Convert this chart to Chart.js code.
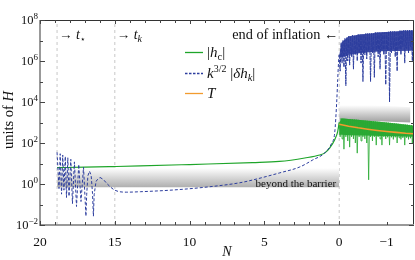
<!DOCTYPE html>
<html>
<head>
<meta charset="utf-8">
<script src="https://cdn.jsdelivr.net/npm/chart.js@4.4.1/dist/chart.umd.min.js"></script>
<style>
  html, body { margin: 0; padding: 0; background: #fff; }
  #wrap { width: 415px; height: 260px; }
</style>
</head>
<body>
<div id="wrap"><canvas id="chart" width="415" height="260"></canvas></div>
<script>
// ---- Data ----

const xTicks = [20, 15, 10, 5, 0, -1];
const yTickExps = [8, 6, 4, 2, 0, -2];
const markerN = [18.86, 15, 0];

// k^{3/2}|dh_k| : early oscillations
const nBlueOsc = [18.86, 18.73, 18.65, 18.56, 18.48, 18.40, 18.31, 18.23, 18.14, 18.06,
  17.94, 17.83, 17.70, 17.56, 17.41, 17.26, 17.09, 16.93, 16.88, 16.80, 16.69, 16.58,
  16.49, 16.43, 16.38, 16.25, 15.99];
const blueOsc = [35, 0.6, 30, 0.32, 26, 0.5, 22, 0.22, 19, 0.25,
  16, 0.11, 12, 0.08, 9, 0.14, 6.6, 0.027, 0.3, 2.5, 4.2, 2.6,
  0.35, 0.027, 0.3, 1.4, 2.1];

// k^{3/2}|dh_k| : smooth part up to the end of inflation
const nBlueSmooth = [15.99, 15.75, 15.5, 15.0, 14.2, 13.3, 11.1, 8.84, 6.64, 5.77, 3.97,
  2.63, 1.76, 0.96, 0.5, 0.3, 0.16, 0.1, 0.03, 0];
const blueSmooth = [2.1, 1.6, 1.0, 0.5, 0.4, 0.42, 0.51, 0.71, 1.15, 1.58, 3.5,
  6.8, 15, 33, 100, 316, 1.26e4, 1.26e5, 1.26e6, 2e6];

// |h_c| before the end of inflation
const nGreen = [18.86, 17, 15, 13.3, 10, 5.8, 4, 2.3, 1.3, 0.96, 0.63, 0.3, 0.1, 0];
const green = [6.3, 6.6, 7.1, 7.6, 8.9, 11, 12.6, 18.6, 26, 33, 58, 145, 363, 1000];

// after the end of inflation (shared N grid)
const nLate = [0, -0.02, -0.04, -0.06, -0.08, -0.1, -0.12, -0.14, -0.16, -0.18,
  -0.2, -0.22, -0.24, -0.26, -0.28, -0.3, -0.32, -0.34, -0.36, -0.38,
  -0.4, -0.42, -0.44, -0.46, -0.48, -0.5, -0.52, -0.54, -0.56, -0.58,
  -0.6, -0.62, -0.64, -0.66, -0.68, -0.7, -0.72, -0.74, -0.76, -0.78,
  -0.8, -0.82, -0.84, -0.86, -0.88, -0.9, -0.92, -0.94, -0.96, -0.98,
  -1, -1.02, -1.04, -1.06, -1.08, -1.1, -1.12, -1.14, -1.16, -1.18,
  -1.2, -1.22, -1.24, -1.26, -1.28, -1.3, -1.32, -1.34, -1.36, -1.38,
  -1.4, -1.42, -1.44, -1.46, -1.48, -1.5, -1.52, -1.54, -1.56];
const blueLate = [2e6, 3.2e5, 7.9e6, 7.9e5, 1e7, 5e5, 1.26e7, 6.3e4, 1.4e7, 1e6,
  1.6e7, 6.3e5, 1.6e7, 1.6e6, 1.8e7, 4e5, 1.8e7, 2e6, 1.8e7, 1e6,
  2e7, 2.5e6, 2e7, 7.9e5, 2e7, 1e5, 2e7, 2e6, 2.2e7, 1.26e6,
  2.2e7, 3.2e6, 2.2e7, 1e5, 2.2e7, 2.5e6, 2.2e7, 1.6e5, 2.5e7, 3.2e6,
  2.5e7, 1.6e6, 2.5e7, 4e5, 2.5e7, 3.2e6, 2.5e7, 2e6, 2.5e7, 7e4,
  2.5e7, 3.2e6, 2.8e7, 1e4, 2.8e7, 2.5e6, 2.8e7, 4e6, 2.8e7, 1.6e6,
  2.8e7, 3.2e5, 2.8e7, 4e6, 3.2e7, 2e6, 3.2e7, 5e6, 3.2e7, 7.9e5,
  3.2e7, 4e6, 3.2e7, 2.5e6, 3.2e7, 5e6, 3.2e7, 1e6, 3.2e7];
const greenLate = [1000, 200, 1585, 158, 1585, 50, 1550, 200, 1500, 126,
  1480, 63, 1450, 200, 1420, 158, 1400, 100, 1380, 32,
  1350, 200, 1320, 126, 1300, 200, 1270, 158, 1250, 100,
  1220, 1.6, 1200, 200, 1180, 126, 1150, 200, 1130, 79,
  1100, 200, 1080, 158, 1060, 79, 1040, 200, 1020, 158,
  1000, 190, 980, 79, 960, 190, 940, 150, 920, 190,
  900, 100, 880, 180, 860, 150, 840, 180, 820, 79,
  800, 180, 780, 150, 760, 170, 740, 100, 720];

// dense cores of the oscillating bands (edges)
const nCore = [0, -0.05, -0.2, -0.5, -0.9, -1.56];
const blueCoreTop = [2e6, 8e6, 1.6e7, 2e7, 2.5e7, 3.2e7];
const blueCoreBottom = [1.5e6, 1.5e6, 2e6, 2.5e6, 3e6, 3.2e6];
const greenCoreTop = [1000, 1585, 1480, 1300, 1060, 720];
const greenCoreBottom = [250, 250, 240, 230, 220, 200];

// T
const nT = [0, -0.2, -0.4, -0.6, -0.8, -1.0, -1.2, -1.4, -1.56];
const temp = [830, 660, 550, 470, 410, 365, 330, 300, 285];

// shaded bands
const nBand1 = [18.86, 0];
const band1Top = [6, 6];
const band1Bottom = [0.7, 0.7];
const nBand2 = [0, -1.5];
const band2Top = [9000, 5600];
const band2Bottom = [1350, 1000];

// ---- Styling ----

const SERIF = '"Liberation Serif", "DejaVu Serif", serif';
const R = (s) => `${s}px ${SERIF}`;
const I = (s) => `italic ${s}px ${SERIF}`;
const GREEN = '#1ea52a';
const BLUE = '#2c3d9e';
const ORANGE = '#f29b2e';

// x axis: 20..0 linear, then stretched for N < 0
const SPLIT = 0.8;
class BrokenScale extends Chart.LinearScale {
    getPixelForValue(value) {
        if (value === null || value === undefined) return NaN;
        const d = value >= 0
            ? SPLIT * (this.max - value) / this.max
            : SPLIT + (1 - SPLIT) * (value / this.min);
        return this.getPixelForDecimal(d);
    }
    getValueForPixel(pixel) {
        const d = this.getDecimalForPixel(pixel);
        return d <= SPLIT ? this.max - d / SPLIT * this.max : (d - SPLIT) / (1 - SPLIT) * this.min;
    }
}
BrokenScale.id = 'broken';
BrokenScale.defaults = Chart.LinearScale.defaults;
Chart.register(BrokenScale);

const pts = (xs, ys) => xs.map((x, i) => ({ x, y: ys[i] }));

function bandGradient(top, bottom, dark) {
    return (ctx) => {
        const chart = ctx.chart;
        if (!chart.chartArea) return 'rgba(0,0,0,0)';
        const y = chart.scales.y;
        const g = chart.ctx.createLinearGradient(0, y.getPixelForValue(top), 0, y.getPixelForValue(bottom));
        g.addColorStop(0, 'rgba(255,255,255,1)');
        g.addColorStop(1, dark);
        return g;
    };
}

const line = (data, color, extra) => Object.assign({
    data, borderColor: color, borderWidth: 1.2, pointRadius: 0, fill: false, tension: 0,
}, extra);
const hidden = (data) => line(data, 'rgba(0,0,0,0)', { borderWidth: 0 });
const filled = (data, bg) => line(data, 'rgba(0,0,0,0)', { borderWidth: 0, fill: '-1', backgroundColor: bg });

const datasets = [
    line(pts(nT, temp), ORANGE, { borderWidth: 1.6 }),
    line(pts(nBlueOsc, blueOsc), BLUE, { borderDash: [3, 2], borderWidth: 1 }),
    line(pts(nBlueSmooth, blueSmooth), BLUE, { borderDash: [3, 2], borderWidth: 1, cubicInterpolationMode: 'monotone' }),
    line(pts(nLate, blueLate), BLUE, { borderDash: [4, 1], borderWidth: 1 }),
    hidden(pts(nCore, blueCoreTop)),
    filled(pts(nCore, blueCoreBottom), 'rgba(42,58,155,0.9)'),
    line(pts(nGreen, green), GREEN, { cubicInterpolationMode: 'monotone' }),
    line(pts(nLate, greenLate), 'rgba(40,170,50,0.8)', { borderWidth: 1 }),
    hidden(pts(nCore, greenCoreTop)),
    filled(pts(nCore, greenCoreBottom), 'rgba(30,160,40,0.92)'),
    hidden(pts(nBand1, band1Top)),
    filled(pts(nBand1, band1Bottom), bandGradient(6, 0.7, 'rgba(175,175,175,1)')),
    hidden(pts(nBand2, band2Top)),
    filled(pts(nBand2, band2Bottom), bandGradient(7000, 1150, 'rgba(165,165,165,1)')),
];
for (const n of markerN) {
    datasets.push(line([{ x: n, y: 1e-2 }, { x: n, y: 1e8 }], '#c8c8c8', { borderDash: [3, 3], borderWidth: 1 }));
}

// ---- Text helpers ----

function rich(ctx, x, y, parts, align) {
    let w = 0;
    for (const p of parts) { ctx.font = p[1]; w += ctx.measureText(p[0]).width; }
    let cx = align === 'right' ? x - w : align === 'center' ? x - w / 2 : x;
    ctx.textBaseline = 'alphabetic';
    ctx.textAlign = 'left';
    for (const p of parts) {
        ctx.font = p[1];
        ctx.fillText(p[0], cx, y + (p[2] || 0));
        cx += ctx.measureText(p[0]).width;
    }
}

const decorations = {
    id: 'decorations',
    afterDraw(chart) {
        const { ctx, chartArea: a, scales } = chart;
        const xs = scales.x, ys = scales.y;
        ctx.save();

        // frame
        ctx.strokeStyle = '#333';
        ctx.lineWidth = 1;
        ctx.beginPath();
        ctx.moveTo(a.left, a.top + 0.5); ctx.lineTo(a.right - 0.5, a.top + 0.5); ctx.lineTo(a.right - 0.5, a.bottom);
        ctx.stroke();
        ctx.strokeStyle = '#999';
        ctx.lineWidth = 2;
        ctx.beginPath();
        ctx.moveTo(a.left, a.top); ctx.lineTo(a.left, a.bottom); ctx.lineTo(a.right, a.bottom);
        ctx.stroke();

        // inward ticks
        ctx.strokeStyle = '#444';
        ctx.lineWidth = 1;
        ctx.beginPath();
        for (let n = -1; n <= 20; n++) {
            const px = Math.round(xs.getPixelForValue(n)) + 0.5;
            const len = n % 5 === 0 ? 4 : 3;
            ctx.moveTo(px, a.bottom); ctx.lineTo(px, a.bottom - len);
            ctx.moveTo(px, a.top); ctx.lineTo(px, a.top + len);
        }
        for (let e = -2; e <= 8; e++) {
            const py = Math.round(ys.getPixelForValue(Math.pow(10, e))) + 0.5;
            const len = e % 2 === 0 ? 5 : 3;
            ctx.moveTo(a.left, py); ctx.lineTo(a.left + len, py);
            ctx.moveTo(a.right, py); ctx.lineTo(a.right - len, py);
        }
        ctx.stroke();

        ctx.fillStyle = '#111';
        // y tick labels
        for (const e of yTickExps) {
            const py = ys.getPixelForValue(Math.pow(10, e));
            rich(ctx, 38, py + 4, [['10', R(12.5)], [e < 0 ? '\u2212' + (-e) : String(e), R(9), -5]], 'right');
        }

        // axis titles
        rich(ctx, (a.left + a.right) / 2, 256, [['N', I(14)]], 'center');
        ctx.save();
        ctx.translate(13, 120);
        ctx.rotate(-Math.PI / 2);
        rich(ctx, 0, 0, [['units of ', R(14.5)], ['H', I(14.5)]], 'center');
        ctx.restore();

        // annotations
        const x1 = xs.getPixelForValue(markerN[0]);
        const x2 = xs.getPixelForValue(markerN[1]);
        const x3 = xs.getPixelForValue(markerN[2]);
        rich(ctx, x1 + 2, 39, [['\u2192 ', R(13.5)], ['t', I(14)], ['\u22c6', R(9), 3]]);
        rich(ctx, x2 + 2, 39, [['\u2192 ', R(13.5)], ['t', I(14)], ['k', I(10), 3]]);
        rich(ctx, x3 - 1, 39, [['end of inflation \u2190', R(14.3)]], 'right');
        rich(ctx, x3 - 3, 187, [['beyond the barrier', R(11)]], 'right');

        // legend
        const lx = 185, lw = 18, tx = 207;
        const rows = [
            { y: 52, color: GREEN, dash: [], parts: [['|', R(15)], ['h', I(15)], ['c', R(10.5), 3], ['|', R(15)]] },
            { y: 73, color: BLUE, dash: [2.5, 1.5], parts: [['k', I(15)], ['3/2', R(10), -6], [' |', R(15)], ['\u03b4', I(15)], ['h', I(15)], ['k', I(10.5), 3], ['|', R(15)]] },
            { y: 93, color: ORANGE, dash: [], parts: [['T', I(15)]] },
        ];
        for (const r of rows) {
            ctx.strokeStyle = r.color;
            ctx.lineWidth = 1.3;
            ctx.setLineDash(r.dash);
            ctx.beginPath();
            ctx.moveTo(lx, r.y + 0.5); ctx.lineTo(lx + lw, r.y + 0.5);
            ctx.stroke();
            ctx.setLineDash([]);
            ctx.fillStyle = '#111';
            rich(ctx, tx, r.y + 5, r.parts);
        }
        ctx.restore();
    },
};

new Chart(document.getElementById('chart').getContext('2d'), {
    type: 'line',
    data: { datasets },
    options: {
        responsive: false,
        animation: false,
        events: [],
        layout: { padding: { top: 20, right: 1, left: 0, bottom: 0 } },
        plugins: { legend: { display: false }, tooltip: { enabled: false } },
        scales: {
            x: {
                type: 'broken',
                min: -1.575,
                max: 20,
                grid: { display: false },
                border: { display: false },
                afterBuildTicks: (scale) => { scale.ticks = xTicks.map((v) => ({ value: v })); },
                afterFit: (scale) => { scale.height = 35; },
                ticks: {
                    autoSkip: false,
                    maxRotation: 0,
                    padding: 1,
                    color: '#111',
                    font: { family: SERIF, size: 13.5 },
                    callback: (v) => (v < 0 ? '\u2212' + Math.abs(v) : String(v)),
                },
            },
            y: {
                type: 'logarithmic',
                min: 1e-2,
                max: 1e8,
                grid: { display: false },
                border: { display: false },
                ticks: { display: false },
                afterFit: (scale) => { scale.width = 40; },
            },
        },
    },
    plugins: [decorations],
});
</script>
</body>
</html>
